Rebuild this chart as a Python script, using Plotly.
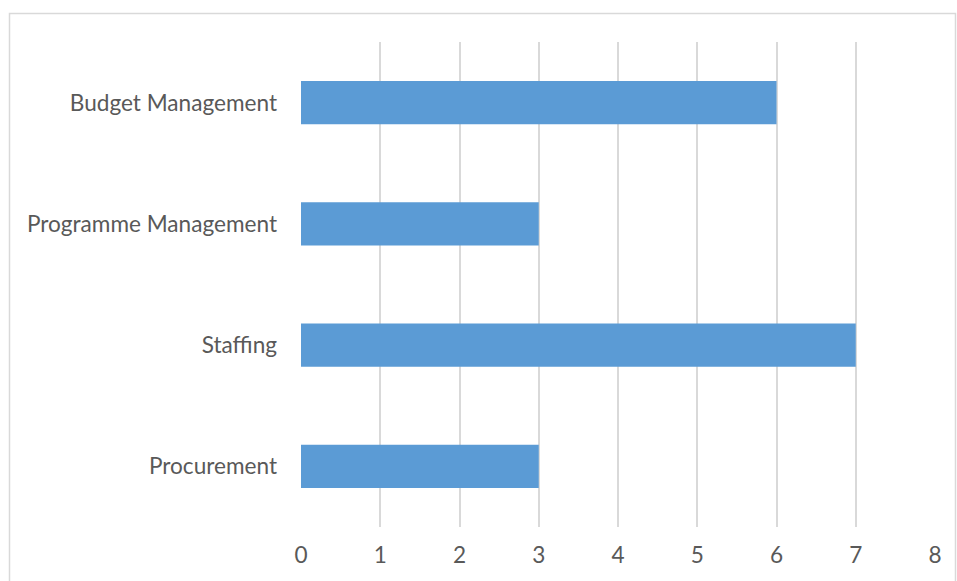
import plotly.graph_objects as go

categories = ["Procurement", "Staffing", "Programme Management", "Budget Management"]
values = [3, 7, 3, 6]
x_ticks = [0, 1, 2, 3, 4, 5, 6, 7, 8]

W, H = 957, 581
L, R, T, B = 301, 22, 42, 54
pw, ph = W - L - R, H - T - B

fig = go.Figure(go.Bar(
    x=values, y=categories, orientation="h",
    marker=dict(color="#5B9BD5", line=dict(width=0)),
    width=0.355,
))

def px2paper_x(px):
    return (px - L) / pw

def px2paper_y(py):
    return (H - B - py) / ph

fig.add_shape(type="rect", xref="paper", yref="paper",
              x0=px2paper_x(9.5), x1=px2paper_x(955.5),
              y0=px2paper_y(600), y1=px2paper_y(13.5),
              line=dict(color="#D9D9D9", width=1.5), fillcolor="rgba(0,0,0,0)", layer="below")

fig.update_layout(
    width=W, height=H,
    margin=dict(l=L, r=R, t=T, b=B),
    paper_bgcolor="white", plot_bgcolor="white",
    font=dict(family="Lato, Calibri, Carlito, sans-serif", size=22.6, color="#595959"),
    showlegend=False,
    xaxis=dict(range=[0, 8], tickvals=x_ticks, showgrid=True, gridcolor="#D9D9D9", gridwidth=1.5,
               zeroline=False, showline=False, ticks="", ticklabelstandoff=12, fixedrange=True),
    yaxis=dict(categoryorder="array", categoryarray=categories, showgrid=False, zeroline=False,
               showline=False, ticks="", ticklabelstandoff=23, fixedrange=True,
               range=[-0.5, 3.5]),
)

fig.write_html("out.html", config={"displayModeBar": False},
               post_script="document.body.style.margin='0';document.body.style.overflow='hidden';")
